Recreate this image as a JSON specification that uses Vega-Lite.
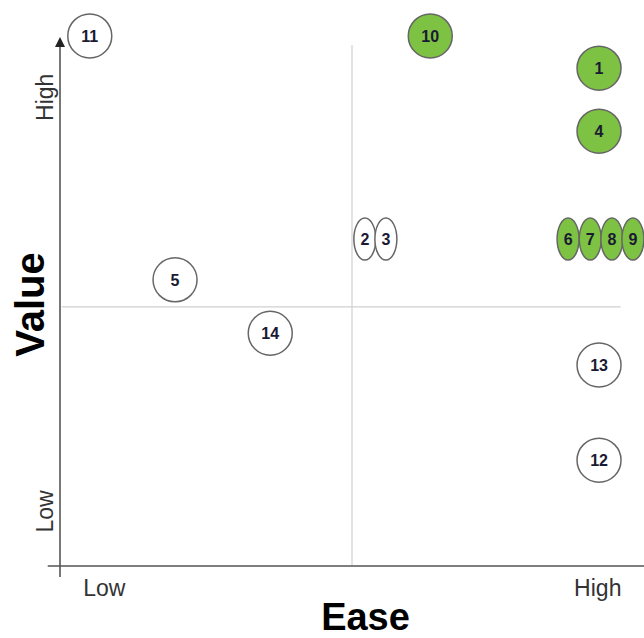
{
  "$schema": "https://vega.github.io/schema/vega-lite/v6.json",
  "width": 584,
  "height": 529,
  "autosize": {"type": "none"},
  "padding": {"left": 60, "top": 37, "right": 0, "bottom": 72},
  "background": "white",
  "config": {
    "view": {"stroke": null},
    "font": "Liberation Sans",
    "axis": {"grid": false, "ticks": false, "domain": false}
  },
  "datasets": {
    "ideas": [
      {"id": "1", "ease": 92.3, "value": 94.1, "status": "quick win", "form": "single"},
      {"id": "2", "ease": 52.2, "value": 61.8, "status": "other", "form": "stacked"},
      {"id": "3", "ease": 55.8, "value": 61.8, "status": "other", "form": "stacked"},
      {"id": "4", "ease": 92.3, "value": 82.2, "status": "quick win", "form": "single"},
      {"id": "5", "ease": 19.7, "value": 54.1, "status": "other", "form": "single"},
      {"id": "6", "ease": 87.0, "value": 61.8, "status": "quick win", "form": "stacked"},
      {"id": "7", "ease": 90.8, "value": 61.8, "status": "quick win", "form": "stacked"},
      {"id": "8", "ease": 94.5, "value": 61.8, "status": "quick win", "form": "stacked"},
      {"id": "9", "ease": 98.1, "value": 61.8, "status": "quick win", "form": "stacked"},
      {"id": "10", "ease": 63.4, "value": 100.2, "status": "quick win", "form": "single"},
      {"id": "11", "ease": 5.1, "value": 100.2, "status": "other", "form": "single"},
      {"id": "12", "ease": 92.3, "value": 20.0, "status": "other", "form": "single"},
      {"id": "13", "ease": 92.3, "value": 38.0, "status": "other", "form": "single"},
      {"id": "14", "ease": 36.0, "value": 44.0, "status": "other", "form": "single"}
    ]
  },
  "layer": [
    {
      "data": {"values": [{"ease": 50, "value": 0, "value_end": 98.5}]},
      "mark": {"type": "rule", "color": "#d0d0d0", "strokeWidth": 1.2},
      "encoding": {
        "x": {"field": "ease", "type": "quantitative", "scale": {"domain": [0, 100], "nice": false, "zero": false}},
        "y": {"field": "value", "type": "quantitative", "scale": {"domain": [0, 100], "nice": false, "zero": false}},
        "y2": {"field": "value_end"}
      }
    },
    {
      "data": {"values": [{"ease": 0.3, "ease_end": 96, "value": 49}]},
      "mark": {"type": "rule", "color": "#d0d0d0", "strokeWidth": 1.2},
      "encoding": {
        "x": {"field": "ease", "type": "quantitative"},
        "x2": {"field": "ease_end"},
        "y": {"field": "value", "type": "quantitative"}
      }
    },
    {
      "data": {"values": [{"ease": 0, "value": -2.1, "value_end": 98.5}]},
      "mark": {"type": "rule", "color": "#555555", "strokeWidth": 1.6},
      "encoding": {
        "x": {"field": "ease", "type": "quantitative"},
        "y": {"field": "value", "type": "quantitative"},
        "y2": {"field": "value_end"}
      }
    },
    {
      "data": {"values": [{"ease": -2.1, "ease_end": 100, "value": 0}]},
      "mark": {"type": "rule", "color": "#555555", "strokeWidth": 1.6},
      "encoding": {
        "x": {"field": "ease", "type": "quantitative"},
        "x2": {"field": "ease_end"},
        "y": {"field": "value", "type": "quantitative"}
      }
    },
    {
      "data": {"values": [{"ease": 0, "value": 99.05}]},
      "mark": {"type": "point", "shape": "M0,-1 L1,1 L-1,1 Z", "size": 100, "filled": true, "color": "#222222", "opacity": 1},
      "encoding": {
        "x": {"field": "ease", "type": "quantitative"},
        "y": {"field": "value", "type": "quantitative"}
      }
    },
    {
      "data": {"name": "ideas"},
      "mark": {"type": "point", "filled": true, "size": 1936, "stroke": "#666666", "strokeWidth": 1.5, "opacity": 1},
      "encoding": {
        "x": {
          "field": "ease", "type": "quantitative",
          "axis": {
            "title": "Ease", "values": [7.5, 92],
            "labelExpr": "datum.value < 50 ? 'Low' : 'High'",
            "domain": false, "ticks": false, "grid": false,
            "labelFontSize": 23, "labelColor": "#333333", "labelFont": "Liberation Sans",
            "labelPadding": 29, "labelBaseline": "alphabetic", "labelAlign": "center",
            "labelFlush": false, "labelOverlap": false,
            "titleFontSize": 38, "titleFontWeight": "bold", "titleColor": "#000000", "titleFont": "Liberation Sans",
            "titleX": 305, "titleY": 63, "titleBaseline": "alphabetic", "titleAlign": "center"
          }
        },
        "y": {
          "field": "value", "type": "quantitative",
          "axis": {
            "title": "Value", "values": [10.4, 88.7],
            "labelExpr": "datum.value < 50 ? 'Low' : 'High'",
            "domain": false, "ticks": false, "grid": false,
            "labelFontSize": 23, "labelColor": "#333333", "labelFont": "Liberation Sans",
            "labelAngle": 270, "labelPadding": 8, "labelBaseline": "alphabetic", "labelAlign": "center",
            "labelFlush": false, "labelOverlap": false,
            "titleFontSize": 40, "titleFontWeight": "bold", "titleColor": "#000000", "titleFont": "Liberation Sans",
            "titleAngle": 270, "titleX": -17, "titleY": 267, "titleBaseline": "alphabetic", "titleAlign": "center"
          }
        },
        "fill": {
          "field": "status", "type": "nominal",
          "scale": {"domain": ["quick win", "other"], "range": ["#7dc242", "#ffffff"]},
          "legend": null
        },
        "shape": {
          "field": "form", "type": "nominal",
          "scale": {"domain": ["single", "stacked"], "range": ["circle", "M0,-0.955 C0.276,-0.955 0.5,-0.527 0.5,0 C0.5,0.527 0.276,0.955 0,0.955 C-0.276,0.955 -0.5,0.527 -0.5,0 C-0.5,-0.527 -0.276,-0.955 0,-0.955 Z"]},
          "legend": null
        }
      }
    },
    {
      "data": {"name": "ideas"},
      "mark": {"type": "text", "font": "Liberation Sans", "fontWeight": "bold", "fontSize": 16, "color": "#1a1a33", "align": "center", "baseline": "middle", "dy": 1},
      "encoding": {
        "x": {"field": "ease", "type": "quantitative"},
        "y": {"field": "value", "type": "quantitative"},
        "text": {"field": "id"}
      }
    }
  ]
}
